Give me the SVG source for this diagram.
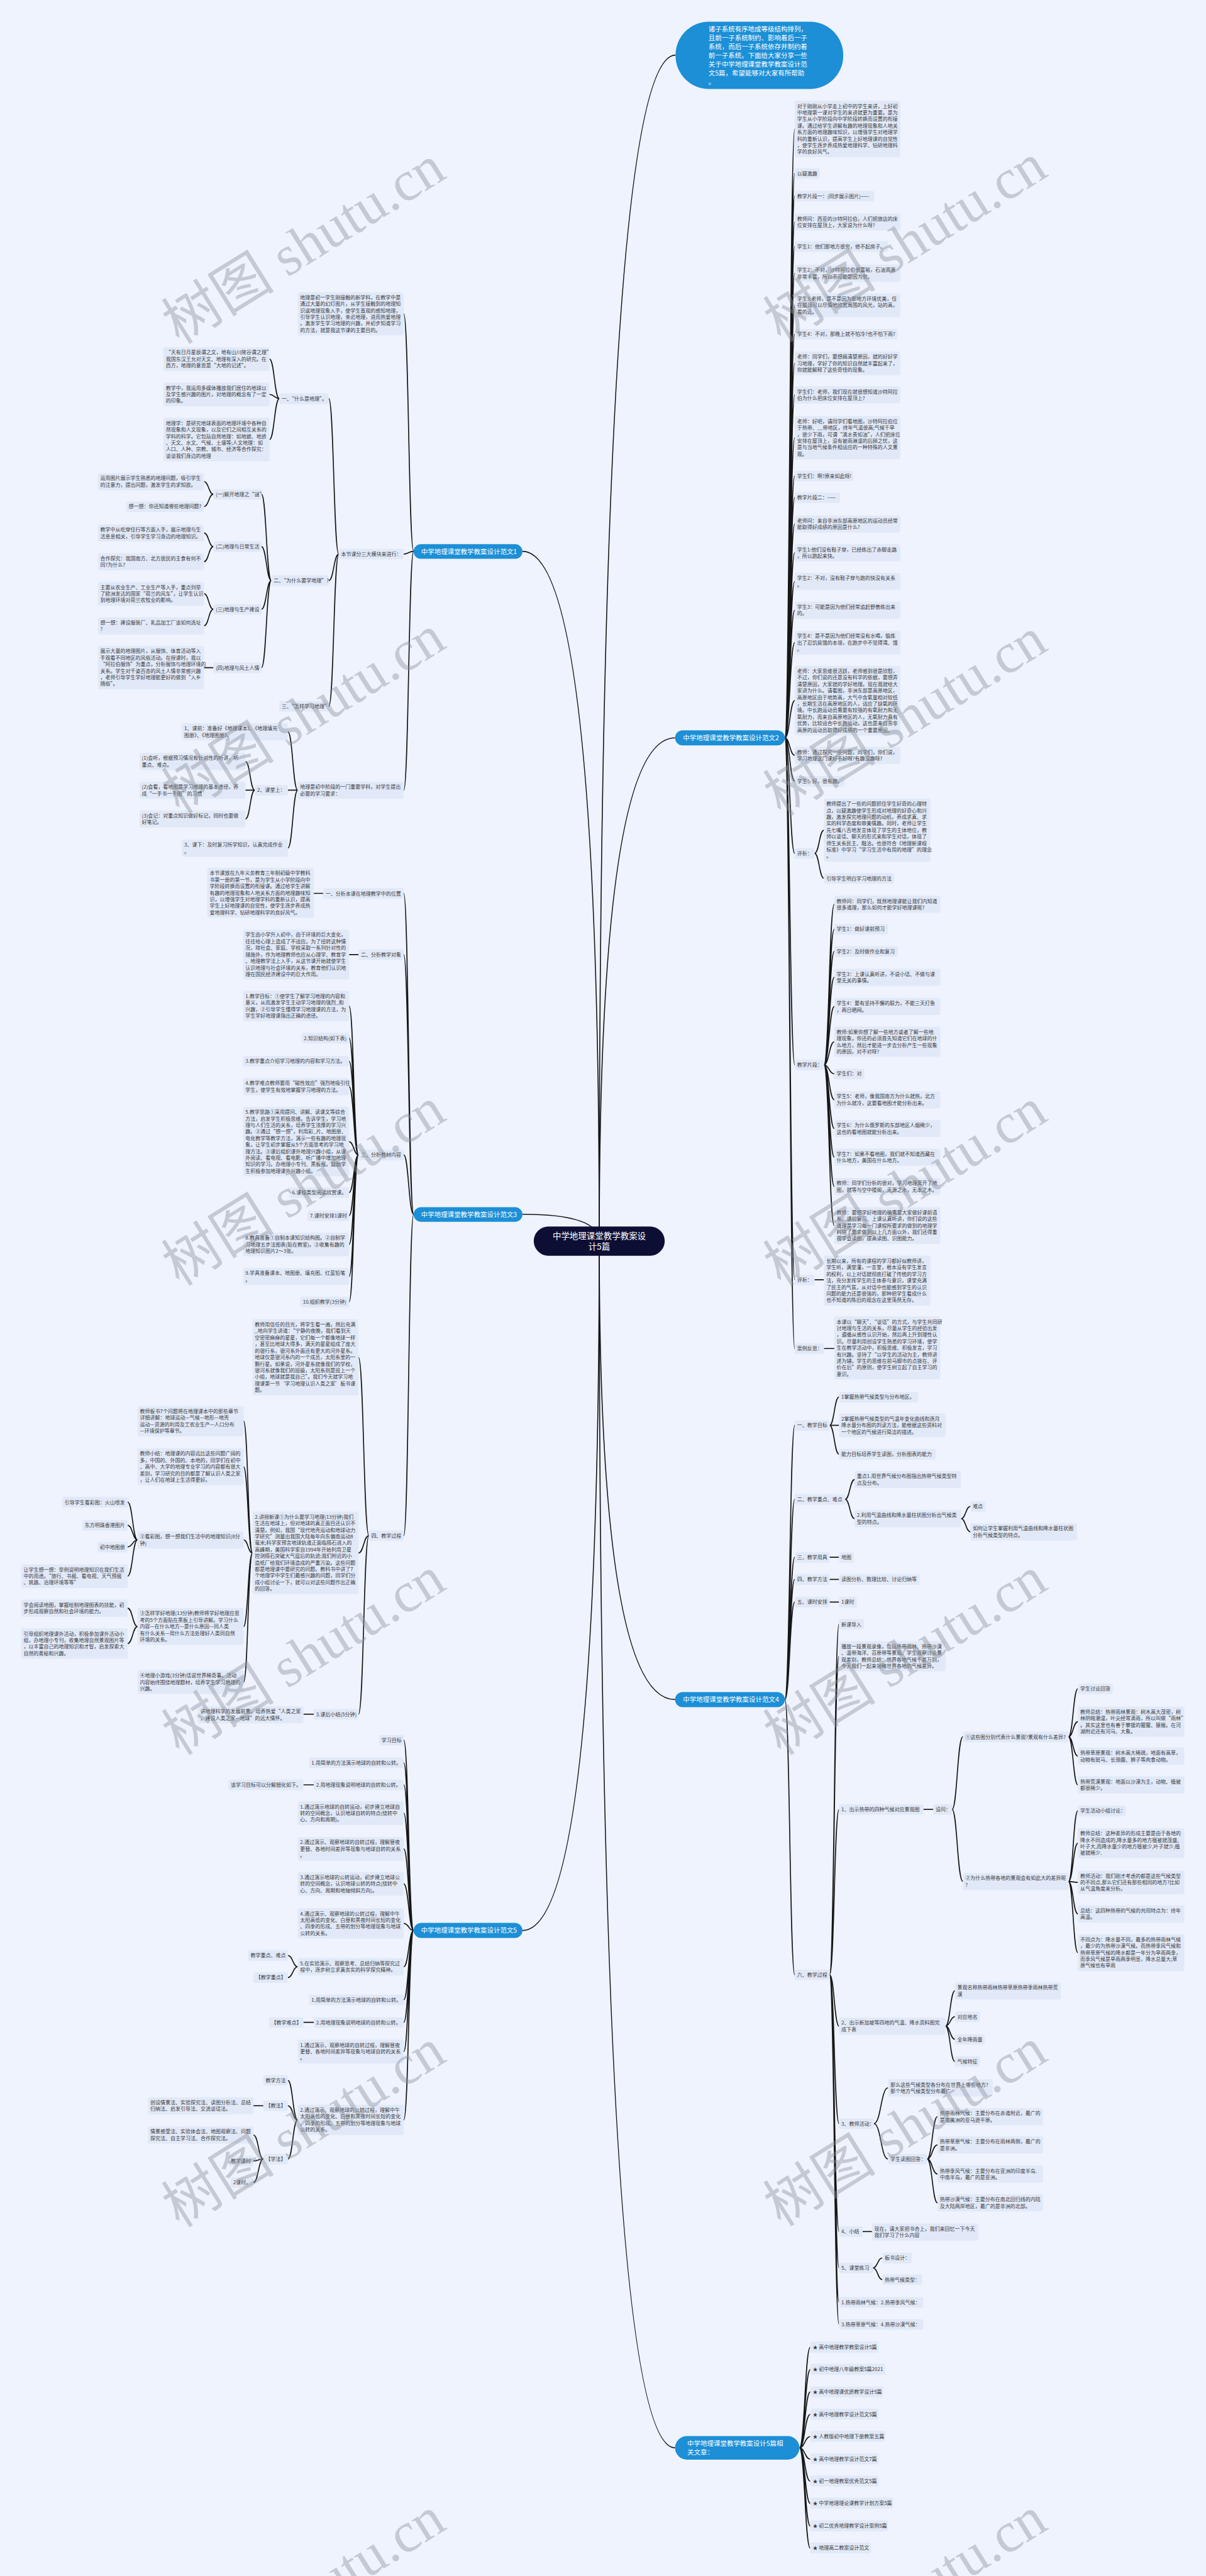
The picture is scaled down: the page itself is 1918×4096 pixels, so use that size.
<svg xmlns="http://www.w3.org/2000/svg" width="1918" height="4096" viewBox="0 0 1918 4096">
<style>
.n rect{fill:#e1e9f8}
.n text{font-family:"Noto Sans CJK SC","Liberation Sans",sans-serif;font-size:10.7px;fill:#383838}
.f rect{fill:#1c8fd6}
.f text{font-family:"Noto Sans CJK SC","Liberation Sans",sans-serif;font-size:14px;fill:#ffffff}
.c path{fill:none;stroke:#161616;stroke-width:2.2}
.w text{font-family:"Liberation Serif","Noto Sans CJK SC",serif;font-size:120px;fill:#8a8e98;fill-opacity:0.42}
</style>
<rect x="0" y="0" width="1918" height="4096" fill="#eef3fd"/>
<g transform="scale(0.74922)">
<g id="connectors" class="c">
<path d="M1272 2634Q1272 117 1434 117"/>
<path d="M1272 2634Q1272 1566 1433 1566"/>
<path d="M1272 2634Q1272 3607 1433 3607"/>
<path d="M1272 2634Q1272 5195 1433 5195"/>
<path d="M1272 2634Q1272 1170 1109 1170"/>
<path d="M1272 2634Q1272 2577 1109 2577"/>
<path d="M1272 2634Q1272 4097 1109 4097"/>
<path d="M1666 1566C1676.5 1566 1676.5 274 1687 274M1666 1566C1676.5 1566 1676.5 368 1687 368M1666 1566C1676.5 1566 1676.5 416 1687 416M1666 1566C1676.5 1566 1676.5 471 1687 471M1666 1566C1676.5 1566 1676.5 523 1687 523M1666 1566C1676.5 1566 1676.5 580 1687 580M1666 1566C1676.5 1566 1676.5 648 1687 648M1666 1566C1676.5 1566 1676.5 709 1687 709M1666 1566C1676.5 1566 1676.5 771 1687 771M1666 1566C1676.5 1566 1676.5 838 1687 838M1666 1566C1676.5 1566 1676.5 929 1687 929M1666 1566C1676.5 1566 1676.5 1010 1687 1010M1666 1566C1676.5 1566 1676.5 1056 1687 1056M1666 1566C1676.5 1566 1676.5 1112 1687 1112M1666 1566C1676.5 1566 1676.5 1173 1687 1173M1666 1566C1676.5 1566 1676.5 1234 1687 1234M1666 1566C1676.5 1566 1676.5 1295 1687 1295M1666 1566C1676.5 1566 1676.5 1364 1687 1364M1666 1566C1676.5 1566 1676.5 1487 1687 1487M1666 1566C1676.5 1566 1676.5 1603 1687 1603M1666 1566C1676.5 1566 1676.5 1658 1687 1658M1666 1566C1676.5 1566 1676.5 1811 1687 1811M1666 1566C1676.5 1566 1676.5 2260 1687 2260M1666 1566C1676.5 1566 1676.5 2716 1687 2716M1666 1566C1676.5 1566 1676.5 2862 1687 2862"/>
<path d="M1729 1811C1739 1811 1739 1762 1749 1762M1729 1811C1739 1811 1739 1864 1749 1864"/>
<path d="M1749 2260C1760 2260 1760 1919 1771 1919M1749 2260C1760 2260 1760 1972 1771 1972M1749 2260C1760 2260 1760 2019 1771 2019M1749 2260C1760 2260 1760 2074 1771 2074M1749 2260C1760 2260 1760 2136 1771 2136M1749 2260C1760 2260 1760 2211 1771 2211M1749 2260C1760 2260 1760 2279 1771 2279M1749 2260C1760 2260 1760 2334 1771 2334M1749 2260C1760 2260 1760 2395 1771 2395M1749 2260C1760 2260 1760 2456 1771 2456M1749 2260C1760 2260 1760 2518 1771 2518M1749 2260C1760 2260 1760 2601 1771 2601"/>
<path d="M1729 2716L1749 2716M1749 2862L1771 2862"/>
<path d="M1666 3607C1676.5 3607 1676.5 3025 1687 3025M1666 3607C1676.5 3607 1676.5 3182 1687 3182M1666 3607C1676.5 3607 1676.5 3305 1687 3305M1666 3607C1676.5 3607 1676.5 3352 1687 3352M1666 3607C1676.5 3607 1676.5 3400 1687 3400M1666 3607C1676.5 3607 1676.5 4191 1687 4191"/>
<path d="M1761 3025C1771 3025 1771 2965 1781 2965M1761 3025L1781 3025M1761 3025C1771 3025 1771 3086 1781 3086"/>
<path d="M1794 3182C1804 3182 1804 3140 1814 3140M1794 3182C1804 3182 1804 3223 1814 3223"/>
<path d="M2040 3223C2050 3223 2050 3197 2060 3197M2040 3223C2050 3223 2050 3251 2060 3251"/>
<path d="M1761 3305L1781 3305M1761 3352L1781 3352M1761 3400L1781 3400"/>
<path d="M1761 4191C1771 4191 1771 3447 1781 3447M1761 4191C1771 4191 1771 3515 1781 3515M1761 4191C1771 4191 1771 3840 1781 3840M1761 4191C1771 4191 1771 4300 1781 4300M1761 4191C1771 4191 1771 4507 1781 4507M1761 4191C1771 4191 1771 4736 1781 4736M1761 4191C1771 4191 1771 4813 1781 4813M1761 4191C1771 4191 1771 4886 1781 4886M1761 4191C1771 4191 1771 4933 1781 4933"/>
<path d="M1960 3840L1981 3840"/>
<path d="M2021 3840C2032 3840 2032 3686 2044 3686M2021 3840C2032 3840 2032 3993 2044 3993"/>
<path d="M2268 3686C2278 3686 2278 3584 2288 3584M2268 3686C2278 3686 2278 3654 2288 3654M2268 3686C2278 3686 2278 3727 2288 3727M2268 3686C2278 3686 2278 3788 2288 3788"/>
<path d="M2268 3993C2278 3993 2278 3843 2288 3843M2268 3993C2278 3993 2278 3912 2288 3912M2268 3993C2278 3993 2278 3995 2288 3995M2268 3993C2278 3993 2278 4062 2288 4062M2268 3993C2278 3993 2278 4144 2288 4144"/>
<path d="M2007 4300C2017 4300 2017 4225 2027 4225M2007 4300C2017 4300 2017 4280 2027 4280M2007 4300C2017 4300 2017 4328 2027 4328M2007 4300C2017 4300 2017 4375 2027 4375"/>
<path d="M1855 4507C1870 4507 1870 4431 1885 4431M1855 4507C1870 4507 1870 4582 1885 4582"/>
<path d="M1968 4582C1979 4582 1979 4492 1990 4492M1968 4582C1979 4582 1979 4552 1990 4552M1968 4582C1979 4582 1979 4614 1990 4614M1968 4582C1979 4582 1979 4675 1990 4675"/>
<path d="M1831 4736L1851 4736"/>
<path d="M1853 4813C1863 4813 1863 4792 1873 4792M1853 4813C1863 4813 1863 4838 1873 4838"/>
<path d="M1697 5195C1708.5 5195 1708.5 4981.5 1720 4981.5M1697 5195C1708.5 5195 1708.5 5029 1720 5029M1697 5195C1708.5 5195 1708.5 5076.5 1720 5076.5M1697 5195C1708.5 5195 1708.5 5124 1720 5124M1697 5195C1708.5 5195 1708.5 5171 1720 5171M1697 5195C1708.5 5195 1708.5 5219 1720 5219M1697 5195C1708.5 5195 1708.5 5266 1720 5266M1697 5195C1708.5 5195 1708.5 5313 1720 5313M1697 5195C1708.5 5195 1708.5 5361 1720 5361M1697 5195C1708.5 5195 1708.5 5408 1720 5408"/>
<path d="M878 1170C867.5 1170 867.5 666 857 666M878 1170C867.5 1170 867.5 1176 857 1176M878 1170C867.5 1170 867.5 1677 857 1677"/>
<path d="M719 1176C708.5 1176 708.5 846 698 846M719 1176C708.5 1176 708.5 1232 698 1232M719 1176C708.5 1176 708.5 1499 698 1499"/>
<path d="M593 846C582.5 846 582.5 762 572 762M593 846C582.5 846 582.5 837 572 837M593 846C582.5 846 582.5 933 572 933"/>
<path d="M576 1232C565.5 1232 565.5 1049 555 1049M576 1232C565.5 1232 565.5 1160 555 1160M576 1232C565.5 1232 565.5 1293 555 1293M576 1232C565.5 1232 565.5 1417 555 1417"/>
<path d="M453 1049C443 1049 443 1022 433 1022M453 1049C443 1049 443 1075 433 1075M453 1160C443 1160 443 1131 433 1131M453 1160C443 1160 443 1192 433 1192M453 1293C443 1293 443 1260 433 1260M453 1293C443 1293 443 1328 433 1328M453 1417L433 1417"/>
<path d="M632 1677C621.5 1677 621.5 1553 611 1553M632 1677L611 1677M632 1677C621.5 1677 621.5 1800 611 1800"/>
<path d="M541 1677C531 1677 531 1616 521 1616M541 1677L521 1677M541 1677C531 1677 531 1738 521 1738"/>
<path d="M878 2577C867.5 2577 867.5 1896 857 1896M878 2577C867.5 2577 867.5 2026 857 2026M878 2577C867.5 2577 867.5 2451 857 2451M878 2577C867.5 2577 867.5 3259 857 3259"/>
<path d="M686 1896L666 1896M761 2026L741 2026"/>
<path d="M761 2451C751 2451 751 2135 741 2135M761 2451C751 2451 751 2203 741 2203M761 2451C751 2451 751 2252 741 2252M761 2451C751 2451 751 2306 741 2306M761 2451C751 2451 751 2423 741 2423M761 2451C751 2451 751 2531 741 2531M761 2451C751 2451 751 2580 741 2580M761 2451C751 2451 751 2641 741 2641M761 2451C751 2451 751 2709 741 2709M761 2451C751 2451 751 2763 741 2763"/>
<path d="M783 3259C772 3259 772 2881 761 2881M783 3259C772 3259 772 3296 761 3296M783 3259C772 3259 772 3638 761 3638"/>
<path d="M536 3296C526.5 3296 526.5 3016 517 3016M536 3296C526.5 3296 526.5 3113 517 3113M536 3296C526.5 3296 526.5 3268 517 3268M536 3296C526.5 3296 526.5 3452 517 3452M536 3296C526.5 3296 526.5 3570 517 3570"/>
<path d="M292 3268C281.5 3268 281.5 3188 271 3188M292 3268C281.5 3268 281.5 3237 271 3237M292 3268C281.5 3268 281.5 3283 271 3283M292 3268C281.5 3268 281.5 3345 271 3345"/>
<path d="M292 3452C281.5 3452 281.5 3413 271 3413M292 3452C281.5 3452 281.5 3488 271 3488"/>
<path d="M666 3638L644 3638"/>
<path d="M878 4097C867.5 4097 867.5 3693 857 3693M878 4097C867.5 4097 867.5 3741 857 3741M878 4097C867.5 4097 867.5 3788 857 3788M878 4097C867.5 4097 867.5 3848 857 3848M878 4097C867.5 4097 867.5 3924 857 3924M878 4097C867.5 4097 867.5 3998 857 3998M878 4097C867.5 4097 867.5 4082 857 4082M878 4097C867.5 4097 867.5 4174 857 4174M878 4097C867.5 4097 867.5 4244 857 4244M878 4097C867.5 4097 867.5 4292 857 4292M878 4097C867.5 4097 867.5 4354 857 4354M878 4097C867.5 4097 867.5 4499 857 4499"/>
<path d="M666 3788L644 3788M666 4292L644 4292"/>
<path d="M632 4174C621.5 4174 621.5 4150 611 4150M632 4174C621.5 4174 621.5 4197 611 4197"/>
<path d="M632 4499C621.5 4499 621.5 4415 611 4415M632 4499C621.5 4499 621.5 4469 611 4469M632 4499C621.5 4499 621.5 4582 611 4582"/>
<path d="M559 4469L538 4469"/>
<path d="M559 4582C548.5 4582 548.5 4531 538 4531M559 4582C548.5 4582 548.5 4586 538 4586M559 4582C548.5 4582 548.5 4632 538 4632"/>
</g>

<g id="center"><rect x="1133" y="2603" width="278" height="62" rx="31" fill="#0d0e34"/><text x="1272" y="2629" text-anchor="middle" font-family="Noto Sans CJK SC,sans-serif" font-size="18" fill="#fff"><tspan x="1272">中学地理课堂教学教案设</tspan><tspan x="1272" dy="23">计5篇</tspan></text></g>

<g id="intro" class="f"><rect x="1434" y="46" width="356" height="143" rx="71"/><text x="1504" y="67"><tspan x="1504">诸子系统有序地成等级结构排列，</tspan><tspan x="1504" dy="18.7">且前一子系统制约、影响着后一子</tspan><tspan x="1504" dy="18.7">系统，而后一子系统依存并制约着</tspan><tspan x="1504" dy="18.7">前一子系统。下面给大家分享一些</tspan><tspan x="1504" dy="18.7">关于中学地理课堂教学教案设计范</tspan><tspan x="1504" dy="18.7">文5篇，希望能够对大家有所帮助</tspan><tspan x="1504" dy="18.7">。</tspan></text></g>

<g id="fan1" class="f"><rect x="878" y="1155" width="231" height="31" rx="15.5"/><text x="894" y="1175.5">中学地理课堂教学教案设计范文1</text></g>
<g id="fan3" class="f"><rect x="878" y="2562" width="231" height="31" rx="15.5"/><text x="894" y="2582.5">中学地理课堂教学教案设计范文3</text></g>
<g id="fan5" class="f"><rect x="878" y="4081" width="231" height="32" rx="16"/><text x="894" y="4102">中学地理课堂教学教案设计范文5</text></g>
<g id="fan2" class="f"><rect x="1433" y="1550" width="233" height="32" rx="16"/><text x="1450" y="1571">中学地理课堂教学教案设计范文2</text></g>
<g id="fan4" class="f"><rect x="1433" y="3591" width="233" height="32" rx="16"/><text x="1450" y="3612">中学地理课堂教学教案设计范文4</text></g>
<g id="related" class="f"><rect x="1433" y="5170" width="264" height="50" rx="25"/><text x="1459" y="5191"><tspan x="1459">中学地理课堂教学教案设计5篇相</tspan><tspan x="1459" dy="19">关文章：</tspan></text></g>

<!-- fan2 children -->
<g id="r01" class="n"><rect x="1687" y="214" width="224" height="119.7" rx="4"/><text x="1692" y="229"><tspan x="1692">对于刚刚从小学走上初中的学生来讲，上好初</tspan><tspan x="1692" dy="13.9">中地理第一课对学生的来讲就更为重要。是为</tspan><tspan x="1692" dy="13.9">学生从小学阶段向中学阶段转换而设置的衔接</tspan><tspan x="1692" dy="13.9">课。通过给学生讲解有趣的地理现象和人地关</tspan><tspan x="1692" dy="13.9">系方面的地理趣味知识，以增强学生对地理学</tspan><tspan x="1692" dy="13.9">科的重新认识，提高学生上好地理课的自觉性</tspan><tspan x="1692" dy="13.9">，使学生逐步养成热爱地理科学、钻研地理科</tspan><tspan x="1692" dy="13.9">学的良好风气。</tspan></text></g>
<g id="r02" class="n"><rect x="1687" y="357" width="53" height="22.4" rx="4"/><text x="1692" y="372">以疑激趣</text></g>
<g id="r03" class="n"><rect x="1687" y="405" width="169" height="22.4" rx="4"/><text x="1692" y="420">教学片段一：(同步展示图片)——</text></g>
<g id="r04" class="n"><rect x="1687" y="453" width="224" height="36.3" rx="4"/><text x="1692" y="468"><tspan x="1692">教师问：西亚的沙特阿拉伯，人们把旅店的床</tspan><tspan x="1692" dy="13.9">位安排在屋顶上，大家说为什么呀?</tspan></text></g>
<g id="r05" class="n"><rect x="1687" y="512" width="198" height="22.4" rx="4"/><text x="1692" y="527">学生1：他们那地方很穷，修不起房子。</text></g>
<g id="r06" class="n"><rect x="1687" y="562" width="224" height="36.3" rx="4"/><text x="1692" y="577"><tspan x="1692">学生2：不对，沙特阿拉伯很富裕，石油资源</tspan><tspan x="1692" dy="13.9">非常丰富，所以不可能是因为穷。</tspan></text></g>
<g id="r07" class="n"><rect x="1687" y="623" width="224" height="50.2" rx="4"/><text x="1692" y="638"><tspan x="1692">学生3:老师，是不是因为那地方环境优美，住</tspan><tspan x="1692" dy="13.9">在屋顶可以尽情地欣赏周围的风光，站的高，</tspan><tspan x="1692" dy="13.9">看的远。</tspan></text></g>
<g id="r08" class="n"><rect x="1687" y="698" width="218" height="22.4" rx="4"/><text x="1692" y="713">学生4：不对，那晚上就不怕冷?也不怕下雨?</text></g>
<g id="r09" class="n"><rect x="1687" y="746" width="224" height="50.2" rx="4"/><text x="1692" y="761"><tspan x="1692">老师：同学们，要想搞清楚原因，就的好好学</tspan><tspan x="1692" dy="13.9">习地理，学好了你的知识自然就丰富起来了，</tspan><tspan x="1692" dy="13.9">你就能解释了这些奇怪的现象。</tspan></text></g>
<g id="r10" class="n"><rect x="1687" y="820" width="224" height="36.3" rx="4"/><text x="1692" y="835"><tspan x="1692">学生们：老师，我们现在就很想知道沙特阿拉</tspan><tspan x="1692" dy="13.9">伯为什么把床位安排在屋顶上?</tspan></text></g>
<g id="r11" class="n"><rect x="1687" y="883" width="224" height="91.9" rx="4"/><text x="1692" y="898"><tspan x="1692">老师：好吧，请同学们看地图，沙特阿拉伯位</tspan><tspan x="1692" dy="13.9">于热带、__带地区，终年气温很高;气候干旱</tspan><tspan x="1692" dy="13.9">，很少下雨，可谓“滴水贵如油”，人们把床位</tspan><tspan x="1692" dy="13.9">安排在屋顶上，没有被雨淋湿的后顾之忧，这</tspan><tspan x="1692" dy="13.9">是与当地气候条件相适应的一种特殊的人文景</tspan><tspan x="1692" dy="13.9">观。</tspan></text></g>
<g id="r12" class="n"><rect x="1687" y="999" width="124" height="22.4" rx="4"/><text x="1692" y="1014">学生们：啊?原来如此呀!</text></g>
<g id="r13" class="n"><rect x="1687" y="1045" width="96" height="22.4" rx="4"/><text x="1692" y="1060">教学片段二：——</text></g>
<g id="r14" class="n"><rect x="1687" y="1094" width="224" height="36.3" rx="4"/><text x="1692" y="1109"><tspan x="1692">老师问：来自非洲东部高原地区的运动员经常</tspan><tspan x="1692" dy="13.9">能取得好成绩的原因是什么?</tspan></text></g>
<g id="r15" class="n"><rect x="1687" y="1155" width="224" height="36.3" rx="4"/><text x="1692" y="1170"><tspan x="1692">学生1:他们没有鞋子穿，已经练出了赤脚走路</tspan><tspan x="1692" dy="13.9">，所以跑起来快。</tspan></text></g>
<g id="r16" class="n"><rect x="1687" y="1216" width="224" height="36.3" rx="4"/><text x="1692" y="1231"><tspan x="1692">学生2：不对，没有鞋子穿与跑的快没有关系</tspan><tspan x="1692" dy="13.9">。</tspan></text></g>
<g id="r17" class="n"><rect x="1687" y="1277" width="224" height="36.3" rx="4"/><text x="1692" y="1292"><tspan x="1692">学生3：可能是因为他们经常追赶野兽练出来</tspan><tspan x="1692" dy="13.9">的。</tspan></text></g>
<g id="r18" class="n"><rect x="1687" y="1339" width="224" height="50.2" rx="4"/><text x="1692" y="1354"><tspan x="1692">学生4：是不是因为他们经常没有水喝，锻炼</tspan><tspan x="1692" dy="13.9">出了忍饥挨饿的本领，在跑步中不觉得渴、饿</tspan><tspan x="1692" dy="13.9">。</tspan></text></g>
<g id="r19" class="n"><rect x="1687" y="1413" width="224" height="147.5" rx="4"/><text x="1692" y="1428"><tspan x="1692">老师：大家思维很活跃，老师感到很是欣慰，</tspan><tspan x="1692" dy="13.9">不过，你们说的还是没有科学的依据，要想弄</tspan><tspan x="1692" dy="13.9">清楚原因，大家就的学好地理。现在我就给大</tspan><tspan x="1692" dy="13.9">家讲为什么。请看图，非洲东部是高原地区，</tspan><tspan x="1692" dy="13.9">高原地区由于地势高，大气中含氧量相对较低</tspan><tspan x="1692" dy="13.9">，长期生活在高原地区的人，适应了缺氧的环</tspan><tspan x="1692" dy="13.9">境。中长跑运动员需要有较强的有氧耐力和无</tspan><tspan x="1692" dy="13.9">氧耐力，而来自高原地区的人，无氧耐力具有</tspan><tspan x="1692" dy="13.9">优势，比较适合中长跑运动，这也是来自东非</tspan><tspan x="1692" dy="13.9">高原的运动员取得好成绩的一个重要原因。</tspan></text></g>
<g id="r20" class="n"><rect x="1687" y="1585" width="224" height="36.3" rx="4"/><text x="1692" y="1600"><tspan x="1692">教师：通过探究一些问题，同学们，你们说，</tspan><tspan x="1692" dy="13.9">学习地理这门课好不好呀?有趣没趣呀?</tspan></text></g>
<g id="r21" class="n"><rect x="1687" y="1647" width="106" height="22.4" rx="4"/><text x="1692" y="1662">学生：好，很有趣。</text></g>
<g id="r22" class="n"><rect x="1687" y="1800" width="42" height="22.4" rx="4"/><text x="1692" y="1815">评析：</text></g>
<g id="r22a" class="n"><rect x="1749" y="1695" width="226" height="133.6" rx="4"/><text x="1754" y="1710"><tspan x="1754">教师提出了一些的问题抓住学生好奇的心理特</tspan><tspan x="1754" dy="13.9">点，以疑激趣使学生形成对地理的好奇心和兴</tspan><tspan x="1754" dy="13.9">趣，激发探究地理问题的动机，养成求真、求</tspan><tspan x="1754" dy="13.9">实的科学态度和审美情趣。同时，老师让学生</tspan><tspan x="1754" dy="13.9">先七嘴八舌地发言体现了学生的主体地位，教</tspan><tspan x="1754" dy="13.9">师以谈话、聊天的形式来和学生对话，体现了</tspan><tspan x="1754" dy="13.9">师生关系民主、融洽。也很符合《地理新课程</tspan><tspan x="1754" dy="13.9">标准》中学习“学习生活中有用的地理”的理念</tspan><tspan x="1754" dy="13.9">。</tspan></text></g>
<g id="r22b" class="n"><rect x="1749" y="1853" width="149" height="22.4" rx="4"/><text x="1754" y="1868">引导学生明白学习地理的方法</text></g>
<g id="r23" class="n"><rect x="1687" y="2249" width="62" height="22.4" rx="4"/><text x="1692" y="2264">教学片段：</text></g>
<g id="r23a" class="n"><rect x="1771" y="1901" width="225" height="36.3" rx="4"/><text x="1776" y="1916"><tspan x="1776">教师问：同学们，既然地理课能让我们内知道</tspan><tspan x="1776" dy="13.9">很多道理，那么如何才能学好地理课呢?</tspan></text></g>
<g id="r23b" class="n"><rect x="1771" y="1961" width="114" height="22.4" rx="4"/><text x="1776" y="1976">学生1：做好课前预习</text></g>
<g id="r23c" class="n"><rect x="1771" y="2008" width="135" height="22.4" rx="4"/><text x="1776" y="2023">学生2：及时做作业和复习</text></g>
<g id="r23d" class="n"><rect x="1771" y="2056" width="225" height="36.3" rx="4"/><text x="1776" y="2071"><tspan x="1776">学生3：上课认真听讲，不说小话、不做与课</tspan><tspan x="1776" dy="13.9">堂无关的事情。</tspan></text></g>
<g id="r23e" class="n"><rect x="1771" y="2118" width="225" height="36.3" rx="4"/><text x="1776" y="2133"><tspan x="1776">学生4：要有坚持不懈的毅力，不能三天打鱼</tspan><tspan x="1776" dy="13.9">，两日晒网。</tspan></text></g>
<g id="r23f" class="n"><rect x="1771" y="2179" width="225" height="64.1" rx="4"/><text x="1776" y="2194"><tspan x="1776">教师:如果你想了解一些地方或者了解一些地</tspan><tspan x="1776" dy="13.9">理现象，你还的必须首先知道它们在地球的什</tspan><tspan x="1776" dy="13.9">么地方，然后才能进一步去分析产生一些现象</tspan><tspan x="1776" dy="13.9">的原因，对不对呀?</tspan></text></g>
<g id="r23g" class="n"><rect x="1771" y="2268" width="64" height="22.4" rx="4"/><text x="1776" y="2283">学生们：对</text></g>
<g id="r23h" class="n"><rect x="1771" y="2316" width="225" height="36.3" rx="4"/><text x="1776" y="2331"><tspan x="1776">学生5：老师，像我国南方为什么就热，北方</tspan><tspan x="1776" dy="13.9">为什么就冷，这要看地图才能分析出来。</tspan></text></g>
<g id="r23i" class="n"><rect x="1771" y="2377" width="225" height="36.3" rx="4"/><text x="1776" y="2392"><tspan x="1776">学生6：为什么俄罗斯的东部地区人烟稀少，</tspan><tspan x="1776" dy="13.9">这也的看地图就能分析出来。</tspan></text></g>
<g id="r23j" class="n"><rect x="1771" y="2438" width="225" height="36.3" rx="4"/><text x="1776" y="2453"><tspan x="1776">学生7：如果不看地图，我们就不知道西藏在</tspan><tspan x="1776" dy="13.9">什么地方，美国在什么地方。</tspan></text></g>
<g id="r23k" class="n"><rect x="1771" y="2500" width="225" height="36.3" rx="4"/><text x="1776" y="2515"><tspan x="1776">教师：同学们分析的很对，学习地理离开了地</tspan><tspan x="1776" dy="13.9">图，就等与空中楼阁，无源之水，无本之木。</tspan></text></g>
<g id="r23l" class="n"><rect x="1771" y="2562" width="225" height="78" rx="4"/><text x="1776" y="2577"><tspan x="1776">教师：要想学好地理的确需要大家做好课前语</tspan><tspan x="1776" dy="13.9">系、课后复习、上课认真听讲，你们说的这些</tspan><tspan x="1776" dy="13.9">道理是学习每一门课程所要求的做到的地理学</tspan><tspan x="1776" dy="13.9">科除了要求做到以上几方面以外，我们还得重</tspan><tspan x="1776" dy="13.9">视学会读图，提高读图、识图能力。</tspan></text></g>
<g id="r24" class="n"><rect x="1687" y="2705" width="42" height="22.4" rx="4"/><text x="1692" y="2720">评析：</text></g>
<g id="r24a" class="n"><rect x="1749" y="2665" width="226" height="105.8" rx="4"/><text x="1754" y="2680"><tspan x="1754">长期以来，所有的课程的学习都好似教师讲，</tspan><tspan x="1754" dy="13.9">学生听，满堂灌，一言堂，根本没有学生发言</tspan><tspan x="1754" dy="13.9">的权利，以上对话就彻底打破了传统的学习方</tspan><tspan x="1754" dy="13.9">法，充分发挥学生的主体参与意识，课堂充满</tspan><tspan x="1754" dy="13.9">了民主的气氛，从对话中也能感到学生的认识</tspan><tspan x="1754" dy="13.9">问题的能力还是很强的，那种把学生看成什么</tspan><tspan x="1754" dy="13.9">也不知道的陈旧的观念在这里荡然无存。</tspan></text></g>
<g id="r25" class="n"><rect x="1687" y="2851" width="62" height="22.4" rx="4"/><text x="1692" y="2866">案例反思：</text></g>
<g id="r25a" class="n"><rect x="1771" y="2794" width="225" height="133.6" rx="4"/><text x="1776" y="2809"><tspan x="1776">本课以“聊天”、“谈话”的方式，与学生共同研</tspan><tspan x="1776" dy="13.9">讨地理与生活的关系，尽量从学生的经验出发</tspan><tspan x="1776" dy="13.9">，遵循从感性认识开始，然后再上升到理性认</tspan><tspan x="1776" dy="13.9">识。尽量利用创设学生熟悉的学习环境，使学</tspan><tspan x="1776" dy="13.9">生在教学活动中，积极思维、积极发言，学习</tspan><tspan x="1776" dy="13.9">有兴趣。坚持了“以学生的活动为主，教师讲</tspan><tspan x="1776" dy="13.9">述为辅，学生的思维在前马脚市的点拨在、评</tspan><tspan x="1776" dy="13.9">价在后”的原则，使学生树立起了自主学习的</tspan><tspan x="1776" dy="13.9">意识。</tspan></text></g>

<!-- fan4 children -->
<g id="q1" class="n"><rect x="1687" y="3014" width="74" height="22.4" rx="4"/><text x="1692" y="3029">一、教学目标</text></g>
<g id="q1a" class="n"><rect x="1781" y="2954" width="168" height="22.4" rx="4"/><text x="1786" y="2969">1掌握热带气候类型与分布地区。</text></g>
<g id="q1b" class="n"><rect x="1781" y="3000" width="226" height="50.2" rx="4"/><text x="1786" y="3015"><tspan x="1786">2掌握热带气候类型的气温年变化曲线和逐月</tspan><tspan x="1786" dy="13.9">降水量分布图的判读方法，能根据这些资料对</tspan><tspan x="1786" dy="13.9">一个地区的气候进行简洁的描述。</tspan></text></g>
<g id="q1c" class="n"><rect x="1781" y="3075" width="205" height="22.4" rx="4"/><text x="1786" y="3090">能力目标培养学生读图，分析图表的能力</text></g>
<g id="q2" class="n"><rect x="1687" y="3171" width="107" height="22.4" rx="4"/><text x="1692" y="3186">二、教学重点、难点</text></g>
<g id="q2a" class="n"><rect x="1814" y="3122" width="226" height="36.3" rx="4"/><text x="1819" y="3137"><tspan x="1819">重点1.用世界气候分布图指出热带气候类型特</tspan><tspan x="1819" dy="13.9">点及分布。</tspan></text></g>
<g id="q2b" class="n"><rect x="1814" y="3205" width="226" height="36.3" rx="4"/><text x="1819" y="3220"><tspan x="1819">2.利用气温曲线和降水量柱状图分析出气候类</tspan><tspan x="1819" dy="13.9">型的特点。</tspan></text></g>
<g id="q2b1" class="n"><rect x="2060" y="3186" width="32" height="22.4" rx="4"/><text x="2065" y="3201">难点</text></g>
<g id="q2b2" class="n"><rect x="2060" y="3233" width="226" height="36.3" rx="4"/><text x="2065" y="3248"><tspan x="2065">如何让学生掌握利用气温曲线和降水量柱状图</tspan><tspan x="2065" dy="13.9">分析气候类型的特点。</tspan></text></g>
<g id="q3" class="n"><rect x="1687" y="3294" width="74" height="22.4" rx="4"/><text x="1692" y="3309">三、教学用具</text></g>
<g id="q3a" class="n"><rect x="1781" y="3294" width="32" height="22.4" rx="4"/><text x="1786" y="3309">地图</text></g>
<g id="q4" class="n"><rect x="1687" y="3341" width="74" height="22.4" rx="4"/><text x="1692" y="3356">四、教学方法</text></g>
<g id="q4a" class="n"><rect x="1781" y="3341" width="171" height="22.4" rx="4"/><text x="1786" y="3356">读图分析、数理比较、讨论归纳等</text></g>
<g id="q5" class="n"><rect x="1687" y="3389" width="74" height="22.4" rx="4"/><text x="1692" y="3404">五、课时安排</text></g>
<g id="q5a" class="n"><rect x="1781" y="3389" width="38" height="22.4" rx="4"/><text x="1786" y="3404">1课时</text></g>
<g id="q6" class="n"><rect x="1687" y="4180" width="74" height="22.4" rx="4"/><text x="1692" y="4195">六、教学过程</text></g>
<g id="q6a" class="n"><rect x="1781" y="3436" width="53" height="22.4" rx="4"/><text x="1786" y="3451">新课导入</text></g>
<g id="q6b" class="n"><rect x="1781" y="3483" width="226" height="64.1" rx="4"/><text x="1786" y="3498"><tspan x="1786">播放一段景观录像，包括热带雨林、热带沙漠</tspan><tspan x="1786" dy="13.9">、温带海洋、苔原带等景观。学生观察讨论景</tspan><tspan x="1786" dy="13.9">观差别，教师总结：世界各地气候千差万别，</tspan><tspan x="1786" dy="13.9">今天我们一起来领略世界各地的气候差异。</tspan></text></g>
<g id="q6c" class="n"><rect x="1781" y="3829" width="179" height="22.4" rx="4"/><text x="1786" y="3844">1、出示热带的四种气候对应景观图</text></g>
<g id="q6c1" class="n"><rect x="1981" y="3829" width="40" height="22.4" rx="4"/><text x="1986" y="3844">设问：</text></g>
<g id="q6c1a" class="n"><rect x="2044" y="3675" width="224" height="22.4" rx="4"/><text x="2049" y="3690">①这些图分别代表什么景观?景观有什么差异?</text></g>
<g id="q6c1a1" class="n"><rect x="2288" y="3573" width="74" height="22.4" rx="4"/><text x="2293" y="3588">学生讨论回答</text></g>
<g id="q6c1a2" class="n"><rect x="2288" y="3622" width="226" height="64.1" rx="4"/><text x="2293" y="3637"><tspan x="2293">教师总结：热带雨林景观：树木高大茂密，树</tspan><tspan x="2293" dy="13.9">林阴暗潮湿，叶尖经常滴雨，所以叫做“雨林”</tspan><tspan x="2293" dy="13.9">。其实这里也有善于攀援的猩猩、猿猴。在河</tspan><tspan x="2293" dy="13.9">湖附近还有河马、大象。</tspan></text></g>
<g id="q6c1a3" class="n"><rect x="2288" y="3709" width="226" height="36.3" rx="4"/><text x="2293" y="3724"><tspan x="2293">热带草原景观：树木高大稀疏，地面有高草，</tspan><tspan x="2293" dy="13.9">动物有斑马、长颈鹿、狮子等肉食动物。</tspan></text></g>
<g id="q6c1a4" class="n"><rect x="2288" y="3770" width="226" height="36.3" rx="4"/><text x="2293" y="3785"><tspan x="2293">热带荒漠景观：地面以沙漠为主，动物、植被</tspan><tspan x="2293" dy="13.9">都很稀少。</tspan></text></g>
<g id="q6c1b" class="n"><rect x="2044" y="3975" width="224" height="36.3" rx="4"/><text x="2049" y="3990"><tspan x="2049">②为什么热带各地的景观会有如此大的差异呢</tspan><tspan x="2049" dy="13.9">?</tspan></text></g>
<g id="q6c1b1" class="n"><rect x="2288" y="3832" width="102" height="22.4" rx="4"/><text x="2293" y="3847">学生活动小组讨论：</text></g>
<g id="q6c1b2" class="n"><rect x="2288" y="3880" width="226" height="64.1" rx="4"/><text x="2293" y="3895"><tspan x="2293">教师总结：这种差异的形成主要是由于各地的</tspan><tspan x="2293" dy="13.9">降水不同造成的,降水量多的地方植被就茂盛,</tspan><tspan x="2293" dy="13.9">叶子大,而降水量少的地方植被少,叶子就少,植</tspan><tspan x="2293" dy="13.9">被就稀少.</tspan></text></g>
<g id="q6c1b3" class="n"><rect x="2288" y="3970" width="226" height="50.2" rx="4"/><text x="2293" y="3985"><tspan x="2293">教师活动：我们刚才考虑的都是这些气候类型</tspan><tspan x="2293" dy="13.9">的不同点,那么它们还有那些相同的地方?比如</tspan><tspan x="2293" dy="13.9">从气温角度来分析。</tspan></text></g>
<g id="q6c1b4" class="n"><rect x="2288" y="4044" width="226" height="36.3" rx="4"/><text x="2293" y="4059"><tspan x="2293">总结：这四种热带的气候的共同特点为：终年</tspan><tspan x="2293" dy="13.9">高温。</tspan></text></g>
<g id="q6c1b5" class="n"><rect x="2288" y="4105" width="226" height="78" rx="4"/><text x="2293" y="4120"><tspan x="2293">不同点为：降水量不同，最多的热带雨林气候</tspan><tspan x="2293" dy="13.9">，最少的为热带沙漠气候。而热带季风气候和</tspan><tspan x="2293" dy="13.9">热带草原气候的降水都是一年分为旱雨两季，</tspan><tspan x="2293" dy="13.9">而季风气候是旱雨两季明显，降水总量大;草</tspan><tspan x="2293" dy="13.9">原气候也有旱雨</tspan></text></g>
<g id="q6d" class="n"><rect x="1781" y="4282" width="226" height="36.3" rx="4"/><text x="1786" y="4297"><tspan x="1786">2、出示新加坡等四地的气温、降水资料图完</tspan><tspan x="1786" dy="13.9">成下表</tspan></text></g>
<g id="q6d1" class="n"><rect x="2027" y="4207" width="225" height="36.3" rx="4"/><text x="2032" y="4222"><tspan x="2032">景观名称热带雨林热带草原热带季雨林热带荒</tspan><tspan x="2032" dy="13.9">漠</tspan></text></g>
<g id="q6d2" class="n"><rect x="2027" y="4269" width="53" height="22.4" rx="4"/><text x="2032" y="4284">对应地名</text></g>
<g id="q6d3" class="n"><rect x="2027" y="4317" width="63" height="22.4" rx="4"/><text x="2032" y="4332">全年降雨量</text></g>
<g id="q6d4" class="n"><rect x="2027" y="4364" width="53" height="22.4" rx="4"/><text x="2032" y="4379">气候特征</text></g>
<g id="q6e" class="n"><rect x="1781" y="4496" width="74" height="22.4" rx="4"/><text x="1786" y="4511">3、教师活动：</text></g>
<g id="q6e1" class="n"><rect x="1885" y="4413" width="222" height="36.3" rx="4"/><text x="1890" y="4428"><tspan x="1890">那么这些气候类型各分布在世界上哪些地方?</tspan><tspan x="1890" dy="13.9">那个地方气候类型分布最广</tspan></text></g>
<g id="q6e2" class="n"><rect x="1885" y="4571" width="83" height="22.4" rx="4"/><text x="1890" y="4586">学生读图回答：</text></g>
<g id="q6e2a" class="n"><rect x="1990" y="4474" width="224" height="36.3" rx="4"/><text x="1995" y="4489"><tspan x="1995">热带雨林气候：主要分布在赤道附近，最广的</tspan><tspan x="1995" dy="13.9">是南美洲的亚马逊平原。</tspan></text></g>
<g id="q6e2b" class="n"><rect x="1990" y="4534" width="224" height="36.3" rx="4"/><text x="1995" y="4549"><tspan x="1995">热带草原气候：主要分布在雨林两侧，最广的</tspan><tspan x="1995" dy="13.9">是非洲。</tspan></text></g>
<g id="q6e2c" class="n"><rect x="1990" y="4596" width="224" height="36.3" rx="4"/><text x="1995" y="4611"><tspan x="1995">热带季风气候：主要分布在亚洲的印度半岛.</tspan><tspan x="1995" dy="13.9">中南半岛，最广的是亚洲。</tspan></text></g>
<g id="q6e2d" class="n"><rect x="1990" y="4657" width="224" height="36.3" rx="4"/><text x="1995" y="4672"><tspan x="1995">热带沙漠气候：主要分布在南北回归线的内陆</tspan><tspan x="1995" dy="13.9">及大陆两岸地区，最广的是非洲的北部。</tspan></text></g>
<g id="q6f" class="n"><rect x="1781" y="4725" width="50" height="22.4" rx="4"/><text x="1786" y="4740">4、小结</text></g>
<g id="q6f1" class="n"><rect x="1851" y="4719" width="226" height="36.3" rx="4"/><text x="1856" y="4734"><tspan x="1856">现在，请大家把书合上，我们来回忆一下今天</tspan><tspan x="1856" dy="13.9">我们学习了什么内容</tspan></text></g>
<g id="q6g" class="n"><rect x="1781" y="4802" width="72" height="22.4" rx="4"/><text x="1786" y="4817">5、课堂练习</text></g>
<g id="q6g1" class="n"><rect x="1873" y="4781" width="63" height="22.4" rx="4"/><text x="1878" y="4796">板书设计：</text></g>
<g id="q6g2" class="n"><rect x="1873" y="4827" width="84" height="22.4" rx="4"/><text x="1878" y="4842">热带气候类型：</text></g>
<g id="q6h" class="n"><rect x="1781" y="4875" width="179" height="22.4" rx="4"/><text x="1786" y="4890">1.热带雨林气候：2.热带季风气候：</text></g>
<g id="q6i" class="n"><rect x="1781" y="4922" width="179" height="22.4" rx="4"/><text x="1786" y="4937">3.热带草原气候：4.热带沙漠气候：</text></g>

<!-- related -->
<g id="a1" class="n"><rect x="1720" y="4970" width="145" height="23" rx="4"/><text x="1725" y="4985.5">★ 高中地理教学教案设计5篇</text></g>
<g id="a2" class="n"><rect x="1720" y="5017" width="159" height="23" rx="4"/><text x="1725" y="5032.5">★ 初中地理八年级教案5篇2021</text></g>
<g id="a3" class="n"><rect x="1720" y="5065" width="155" height="23" rx="4"/><text x="1725" y="5080.5">★ 高中地理课优质教学设计5篇</text></g>
<g id="a4" class="n"><rect x="1720" y="5112" width="145" height="23" rx="4"/><text x="1725" y="5127.5">★ 高中地理教学设计范文5篇</text></g>
<g id="a5" class="n"><rect x="1720" y="5159" width="159" height="23" rx="4"/><text x="1725" y="5174.5">★ 人教版初中地理下册教案五篇</text></g>
<g id="a6" class="n"><rect x="1720" y="5207" width="145" height="23" rx="4"/><text x="1725" y="5222.5">★ 高中地理教学设计范文7篇</text></g>
<g id="a7" class="n"><rect x="1720" y="5254" width="145" height="23" rx="4"/><text x="1725" y="5269.5">★ 初一地理教案优秀范文5篇</text></g>
<g id="a8" class="n"><rect x="1720" y="5301" width="176" height="23" rx="4"/><text x="1725" y="5316.5">★ 中学地理理论课教学计划方案5篇</text></g>
<g id="a9" class="n"><rect x="1720" y="5349" width="165" height="23" rx="4"/><text x="1725" y="5364.5">★ 初二优秀地理教学设计案例5篇</text></g>
<g id="a10" class="n"><rect x="1720" y="5396" width="129" height="23" rx="4"/><text x="1725" y="5411.5">★ 地理高二教案设计范文</text></g>

<!-- fan1 children -->
<g id="l1" class="n"><rect x="632" y="620" width="225" height="91.9" rx="4"/><text x="637" y="635"><tspan x="637">地理是初一学生刚接触的新学科，在教学中是</tspan><tspan x="637" dy="13.9">通过大量的幻灯图片，从学生接触到的地理知</tspan><tspan x="637" dy="13.9">识或地理现象入手，使学生直观的感知地理，</tspan><tspan x="637" dy="13.9">引导学生认识地理，亲近地理，进而热爱地理</tspan><tspan x="637" dy="13.9">。激发学生学习地理的兴趣，并初步知道学习</tspan><tspan x="637" dy="13.9">的方法，就是我这节课的主要目的。</tspan></text></g>
<g id="l2" class="n"><rect x="719" y="1165" width="138" height="22.4" rx="4"/><text x="724" y="1180">本节课分三大模块来进行：</text></g>
<g id="l2a" class="n"><rect x="593" y="835" width="105" height="22.4" rx="4"/><text x="598" y="850">一、“什么是地理”。</text></g>
<g id="l2a1" class="n"><rect x="347" y="737" width="225" height="50.2" rx="4"/><text x="352" y="752"><tspan x="352">“天有日月星辰谓之文，地有山川陵谷谓之理”</tspan><tspan x="352" dy="13.9">我国东汉王允对天文、地理有深入的研究。在</tspan><tspan x="352" dy="13.9">西方，地理的意思是“大地的记述”。</tspan></text></g>
<g id="l2a2" class="n"><rect x="347" y="812" width="225" height="50.2" rx="4"/><text x="352" y="827"><tspan x="352">教学中，我运用多媒体播放我们居住的地球以</tspan><tspan x="352" dy="13.9">及学生感兴趣的图片，对地理的概念有了一定</tspan><tspan x="352" dy="13.9">的印象。</tspan></text></g>
<g id="l2a3" class="n"><rect x="347" y="887" width="225" height="91.9" rx="4"/><text x="352" y="902"><tspan x="352">地理学：是研究地球表面的地理环境中各种自</tspan><tspan x="352" dy="13.9">然现象和人文现象，以及它们之间相互关系的</tspan><tspan x="352" dy="13.9">学科的科学。它包括自然地理：如地貌、地质</tspan><tspan x="352" dy="13.9">、天文、水文、气候、土壤等;人文地理：如</tspan><tspan x="352" dy="13.9">人口、人种、宗教、城市、经济等合作探究：</tspan><tspan x="352" dy="13.9">谈谈我们身边的地理</tspan></text></g>
<g id="l2b" class="n"><rect x="576" y="1221" width="122" height="22.4" rx="4"/><text x="581" y="1236">二、“为什么要学地理”?</text></g>
<g id="l2b1" class="n"><rect x="453" y="1038" width="102" height="22.4" rx="4"/><text x="458" y="1053">(一)解开地理之“谜”</text></g>
<g id="l2b1a" class="n"><rect x="208" y="1004" width="225" height="36.3" rx="4"/><text x="213" y="1019"><tspan x="213">运用图片展示学生熟悉的地理问题，吸引学生</tspan><tspan x="213" dy="13.9">的注意力，提出问题，激发学生的求知欲。</tspan></text></g>
<g id="l2b1b" class="n"><rect x="268" y="1064" width="165" height="22.4" rx="4"/><text x="273" y="1079">想一想：你还知道哪些地理问题?</text></g>
<g id="l2b2" class="n"><rect x="453" y="1149" width="102" height="22.4" rx="4"/><text x="458" y="1164">(二)地理与日常生活</text></g>
<g id="l2b2a" class="n"><rect x="208" y="1113" width="225" height="36.3" rx="4"/><text x="213" y="1128"><tspan x="213">教学中从吃穿住行等方面入手，展示地理与生</tspan><tspan x="213" dy="13.9">活息息相关，引导学生学习身边的地理知识。</tspan></text></g>
<g id="l2b2b" class="n"><rect x="208" y="1174" width="225" height="36.3" rx="4"/><text x="213" y="1189"><tspan x="213">合作探究：我国南方、北方居民的主食有何不</tspan><tspan x="213" dy="13.9">同?为什么?</tspan></text></g>
<g id="l2b3" class="n"><rect x="453" y="1282" width="102" height="22.4" rx="4"/><text x="458" y="1297">(三)地理与生产建设</text></g>
<g id="l2b3a" class="n"><rect x="208" y="1235" width="225" height="50.2" rx="4"/><text x="213" y="1250"><tspan x="213">主要从农业生产、工业生产等入手，重点列举</tspan><tspan x="213" dy="13.9">了欧洲发达的国家“荷兰的风车”，让学生认识</tspan><tspan x="213" dy="13.9">到地理环境对荷兰农牧业的影响。</tspan></text></g>
<g id="l2b3b" class="n"><rect x="208" y="1310" width="225" height="36.3" rx="4"/><text x="213" y="1325"><tspan x="213">想一想：建设服装厂、乳品加工厂该如何选址</tspan><tspan x="213" dy="13.9">?</tspan></text></g>
<g id="l2b4" class="n"><rect x="453" y="1406" width="102" height="22.4" rx="4"/><text x="458" y="1421">(四)地理与风土人情</text></g>
<g id="l2b4a" class="n"><rect x="208" y="1371" width="225" height="91.9" rx="4"/><text x="213" y="1386"><tspan x="213">展示大量的地理图片，从服饰、体育活动等入</tspan><tspan x="213" dy="13.9">手观看不同地区的风俗活动。在授课时，我以</tspan><tspan x="213" dy="13.9">“阿拉伯服饰”为重点，分析服饰与地理环境的</tspan><tspan x="213" dy="13.9">关系。学生对千姿百态的风土人情非常感兴趣</tspan><tspan x="213" dy="13.9">，老师引导学生学好地理能更好的做到“入乡</tspan><tspan x="213" dy="13.9">随俗”。</tspan></text></g>
<g id="l2c" class="n"><rect x="593" y="1488" width="105" height="22.4" rx="4"/><text x="598" y="1503">三、“怎样学习地理”</text></g>
<g id="l3" class="n"><rect x="632" y="1659" width="225" height="36.3" rx="4"/><text x="637" y="1674"><tspan x="637">地理是初中阶段的一门重要学科，对学生提出</tspan><tspan x="637" dy="13.9">必要的学习要求：</tspan></text></g>
<g id="l3a" class="n"><rect x="386" y="1535" width="225" height="36.3" rx="4"/><text x="391" y="1550"><tspan x="391">1、课前：准备好《地理课本》、《地理填充</tspan><tspan x="391" dy="13.9">图册》、《地理图册》。</tspan></text></g>
<g id="l3b" class="n"><rect x="541" y="1666" width="70" height="22.4" rx="4"/><text x="546" y="1681">2、课堂上：</text></g>
<g id="l3b1" class="n"><rect x="296" y="1598" width="225" height="36.3" rx="4"/><text x="301" y="1613"><tspan x="301">(1)会听，根据预习情况有针对性的听讲，听</tspan><tspan x="301" dy="13.9">重点、难点。</tspan></text></g>
<g id="l3b2" class="n"><rect x="296" y="1659" width="225" height="36.3" rx="4"/><text x="301" y="1674"><tspan x="301">(2)会看，看地图是学习地理的基本途径，养</tspan><tspan x="301" dy="13.9">成“一手书一手图”的习惯</tspan></text></g>
<g id="l3b3" class="n"><rect x="296" y="1720" width="225" height="36.3" rx="4"/><text x="301" y="1735"><tspan x="301">(3)会记：对重点知识做好标记，同时也要做</tspan><tspan x="301" dy="13.9">好笔记。</tspan></text></g>
<g id="l3c" class="n"><rect x="386" y="1782" width="225" height="36.3" rx="4"/><text x="391" y="1797"><tspan x="391">3、课下：及时复习所学知识，认真完成作业</tspan><tspan x="391" dy="13.9">。</tspan></text></g>

<!-- fan3 children -->
<g id="m1" class="n"><rect x="686" y="1885" width="171" height="22.4" rx="4"/><text x="691" y="1900">一、分析本课在地理教学中的位置</text></g>
<g id="m1a" class="n"><rect x="440" y="1842" width="226" height="105.8" rx="4"/><text x="445" y="1857"><tspan x="445">本节课放在九年义务教育三年制初级中学教科</tspan><tspan x="445" dy="13.9">书第一册的第一节，是为学生从小学阶段向中</tspan><tspan x="445" dy="13.9">学阶段转换而设置的衔接课。通过给学生讲解</tspan><tspan x="445" dy="13.9">有趣的地理现象和人地关系方面的地理趣味知</tspan><tspan x="445" dy="13.9">识，以增强学生对地理学科的重新认识，提高</tspan><tspan x="445" dy="13.9">学生上好地理课的自觉性，使学生逐步养成热</tspan><tspan x="445" dy="13.9">爱地理科学、钻研地理科学的良好风气。</tspan></text></g>
<g id="m2" class="n"><rect x="761" y="2015" width="96" height="22.4" rx="4"/><text x="766" y="2030">二、分析教学对象</text></g>
<g id="m2a" class="n"><rect x="516" y="1973" width="225" height="105.8" rx="4"/><text x="521" y="1988"><tspan x="521">学生由小学升入初中，由于环境的巨大变化，</tspan><tspan x="521" dy="13.9">往往给心理上造成了不适应。为了扭转这种情</tspan><tspan x="521" dy="13.9">况，除社会、家庭、学校采取一系列针对性的</tspan><tspan x="521" dy="13.9">措施外，作为地理教师也应从心理学、教育学</tspan><tspan x="521" dy="13.9">、地理教学法上入手，从这节课开始就使学生</tspan><tspan x="521" dy="13.9">认识地理与社会环境的关系，教育他们认识地</tspan><tspan x="521" dy="13.9">理在国民经济建设中的巨大作用。</tspan></text></g>
<g id="m3" class="n"><rect x="761" y="2440" width="96" height="22.4" rx="4"/><text x="766" y="2455">三、分析教材内容</text></g>
<g id="m3a" class="n"><rect x="516" y="2103" width="225" height="64.1" rx="4"/><text x="521" y="2118"><tspan x="521">1.教学目标：①使学生了解学习地理的内容和</tspan><tspan x="521" dy="13.9">意义，从而激发学生主动学习地理的强烈_和</tspan><tspan x="521" dy="13.9">兴趣，②引导学生懂得学习地理课的方法，为</tspan><tspan x="521" dy="13.9">学生学好地理课指出正确的途径。</tspan></text></g>
<g id="m3b" class="n"><rect x="640" y="2192" width="101" height="22.4" rx="4"/><text x="645" y="2207">2.知识结构(如下表)</text></g>
<g id="m3c" class="n"><rect x="516" y="2241" width="225" height="22.4" rx="4"/><text x="521" y="2256">3.教学重点介绍学习地理的内容和学习方法。</text></g>
<g id="m3d" class="n"><rect x="516" y="2288" width="225" height="36.3" rx="4"/><text x="521" y="2303"><tspan x="521">4.教学难点教师要用“磁性效应”强烈地吸引住</tspan><tspan x="521" dy="13.9">学生，使学生有效地掌握学习地理的方法。</tspan></text></g>
<g id="m3e" class="n"><rect x="516" y="2349" width="225" height="147.5" rx="4"/><text x="521" y="2364"><tspan x="521">5.教学思路①采用提问、讲解、读课文等综合</tspan><tspan x="521" dy="13.9">方法，启发学生积极思维。告诉学生，学习地</tspan><tspan x="521" dy="13.9">理与人们生活的关系，培养学生浓厚的学习兴</tspan><tspan x="521" dy="13.9">趣。②通过“想一想”，利用彩_片、地图册、</tspan><tspan x="521" dy="13.9">电化教学等教学方法，演示一些有趣的地理现</tspan><tspan x="521" dy="13.9">象，让学生初步掌握从5个方面思考的学习地</tspan><tspan x="521" dy="13.9">理方法。③课后组织课外地理兴趣小组，从课</tspan><tspan x="521" dy="13.9">外阅读、看电视、看电影、听广播中增加地理</tspan><tspan x="521" dy="13.9">知识的学习。办地理小专刊、黑板报。鼓励学</tspan><tspan x="521" dy="13.9">生积极参加地理课外兴趣小组。</tspan></text></g>
<g id="m3f" class="n"><rect x="615" y="2520" width="126" height="22.4" rx="4"/><text x="620" y="2535">6.课程类型阅读欣赏课。</text></g>
<g id="m3g" class="n"><rect x="653" y="2569" width="88" height="22.4" rx="4"/><text x="658" y="2584">7.课时安排1课时</text></g>
<g id="m3h" class="n"><rect x="516" y="2616" width="225" height="50.2" rx="4"/><text x="521" y="2631"><tspan x="521">8.教具准备①自制本课知识结构图。②自制学</tspan><tspan x="521" dy="13.9">习地理五步法图表(贴在教室)。③收集有趣的</tspan><tspan x="521" dy="13.9">地理知识图片2～3张。</tspan></text></g>
<g id="m3i" class="n"><rect x="516" y="2691" width="225" height="36.3" rx="4"/><text x="521" y="2706"><tspan x="521">9.学具准备课本、地图册、填充图、红蓝铅笔</tspan><tspan x="521" dy="13.9">。</tspan></text></g>
<g id="m3j" class="n"><rect x="638" y="2752" width="103" height="22.4" rx="4"/><text x="643" y="2767">10.组织教学(3分钟)</text></g>
<g id="m4" class="n"><rect x="783" y="3248" width="74" height="22.4" rx="4"/><text x="788" y="3263">四、教学过程</text></g>
<g id="m4a" class="n"><rect x="536" y="2800" width="225" height="161.4" rx="4"/><text x="541" y="2815"><tspan x="541">教师用信任的目光，将学生看一遍，然后充满</tspan><tspan x="541" dy="13.9">_地向学生讲道：“宁静的夜晚，我们看到天</tspan><tspan x="541" dy="13.9">空密密麻麻的星星，它们每一个都像地球一样</tspan><tspan x="541" dy="13.9">，甚至比地球大得多，满天的星星组成了庞大</tspan><tspan x="541" dy="13.9">的银行系，银河系外面还有更大的河外星系。</tspan><tspan x="541" dy="13.9">地球仅是银河系内的一个成员，太阳系里的一</tspan><tspan x="541" dy="13.9">颗行星。如果说，河外星系就像我们的学校，</tspan><tspan x="541" dy="13.9">银河系就像我们的班级，太阳系则是班上一个</tspan><tspan x="541" dy="13.9">小组，地球就是我自己”。我们今天就学习地</tspan><tspan x="541" dy="13.9">理课第一节‘学习地理认识人类之家’板书课</tspan><tspan x="541" dy="13.9">题。</tspan></text></g>
<g id="m4b" class="n"><rect x="536" y="3208" width="225" height="175.3" rx="4"/><text x="541" y="3223"><tspan x="541">2.讲授新课①为什么要学习地理(13分钟)我们</tspan><tspan x="541" dy="13.9">生活在地球上，但对地球的真正面目还认识不</tspan><tspan x="541" dy="13.9">清楚。例如，我国“现代地壳运动和地球动力</tspan><tspan x="541" dy="13.9">学研究”测量出我国大陆每年向东偏南运动8</tspan><tspan x="541" dy="13.9">毫米;科学家预言地球轨道正面临陨石进入的</tspan><tspan x="541" dy="13.9">高峰期，美国科学家自1994年开始利用卫星</tspan><tspan x="541" dy="13.9">控测陨石突破大气层后的轨迹;我们附近的小</tspan><tspan x="541" dy="13.9">造纸厂给我们环境造成的严重污染。这些问题</tspan><tspan x="541" dy="13.9">都是地理课中要研究的问题。教科书中讲了7</tspan><tspan x="541" dy="13.9">个地理学中学生们最感兴趣的问题，同学们分</tspan><tspan x="541" dy="13.9">成小组讨论一下，就可以对这些问题作出正确</tspan><tspan x="541" dy="13.9">的回答。</tspan></text></g>
<g id="m4b1" class="n"><rect x="292" y="2984" width="225" height="64.1" rx="4"/><text x="297" y="2999"><tspan x="297">教师板书7个问题将在地理课本中的那些章节</tspan><tspan x="297" dy="13.9">详细讲解：地球运动—气候—地形—地壳</tspan><tspan x="297" dy="13.9">运动—资源的利用及工农业生产—人口分布</tspan><tspan x="297" dy="13.9">—环境保护等章节。</tspan></text></g>
<g id="m4b2" class="n"><rect x="292" y="3074" width="225" height="78" rx="4"/><text x="297" y="3089"><tspan x="297">教师小结：地理课的内容远比这些问题广阔的</tspan><tspan x="297" dy="13.9">多，中国的、外国的、本地的，同学们在初中</tspan><tspan x="297" dy="13.9">、高中、大学的地理专业学习的内容都有很大</tspan><tspan x="297" dy="13.9">差别，学习研究的目的都是了解认识人类之家</tspan><tspan x="297" dy="13.9">，让人们在地球上生活得更好。</tspan></text></g>
<g id="m4b3" class="n"><rect x="292" y="3250" width="225" height="36.3" rx="4"/><text x="297" y="3265"><tspan x="297">②看彩图，想一想我们生活中的地理知识(8分</tspan><tspan x="297" dy="13.9">钟)</tspan></text></g>
<g id="m4b3a" class="n"><rect x="132" y="3177" width="139" height="22.4" rx="4"/><text x="137" y="3192">引导学生看彩图：火山喷发</text></g>
<g id="m4b3b" class="n"><rect x="175" y="3226" width="96" height="22.4" rx="4"/><text x="180" y="3241">东方明珠香港图片</text></g>
<g id="m4b3c" class="n"><rect x="207" y="3272" width="64" height="22.4" rx="4"/><text x="212" y="3287">初中地图册</text></g>
<g id="m4b3d" class="n"><rect x="45" y="3320" width="226" height="50.2" rx="4"/><text x="50" y="3335"><tspan x="50">让学生想一想：举例说明地理知识在我们生活</tspan><tspan x="50" dy="13.9">中的用途。“旅行、书报、看电视、天气预报</tspan><tspan x="50" dy="13.9">、筑路、治理环境等等”</tspan></text></g>
<g id="m4b4" class="n"><rect x="292" y="3413" width="225" height="78" rx="4"/><text x="297" y="3428"><tspan x="297">③怎样学好地理(13分钟)教师将学好地理应思</tspan><tspan x="297" dy="13.9">考的5个方面贴在黑板上引导讲解。学习什么</tspan><tspan x="297" dy="13.9">内容—在什么地方—是什么原因—同人类</tspan><tspan x="297" dy="13.9">有什么关系—用什么方法处理好人类同自然</tspan><tspan x="297" dy="13.9">环境的关系。</tspan></text></g>
<g id="m4b4a" class="n"><rect x="45" y="3395" width="226" height="36.3" rx="4"/><text x="50" y="3410"><tspan x="50">学会阅读地图，掌握绘制地理图表的技能，初</tspan><tspan x="50" dy="13.9">步形成观察自然和社会环境的能力。</tspan></text></g>
<g id="m4b4b" class="n"><rect x="45" y="3456" width="226" height="64.1" rx="4"/><text x="50" y="3471"><tspan x="50">引导组织地理课外活动，积极参加课外活动小</tspan><tspan x="50" dy="13.9">组，办地理小专刊，收集地理自然景观图片等</tspan><tspan x="50" dy="13.9">，以丰富自己的地理知识和才智，启发探索大</tspan><tspan x="50" dy="13.9">自然的奥秘和兴趣。</tspan></text></g>
<g id="m4b5" class="n"><rect x="292" y="3545" width="225" height="50.2" rx="4"/><text x="297" y="3560"><tspan x="297">④地理小游戏(3分钟)话说世界稀奇事。活动</tspan><tspan x="297" dy="13.9">内容始终围绕地理题材，培养学生学习地理的</tspan><tspan x="297" dy="13.9">兴趣。</tspan></text></g>
<g id="m4c" class="n"><rect x="666" y="3627" width="95" height="22.4" rx="4"/><text x="671" y="3642">3.课后小结(5分钟)</text></g>
<g id="m4c1" class="n"><rect x="420" y="3621" width="224" height="36.3" rx="4"/><text x="425" y="3636"><tspan x="425">讲地理科学的发展前景。培养热爱“人类之家</tspan><tspan x="425" dy="13.9">，建设人类之家—地球”的远大情怀。</tspan></text></g>

<!-- fan5 children -->
<g id="p1" class="n"><rect x="805" y="3682" width="52" height="22.4" rx="4"/><text x="810" y="3697">学习目标</text></g>
<g id="p2" class="n"><rect x="656" y="3730" width="201" height="22.4" rx="4"/><text x="661" y="3745">1.用简单的方法演示地球的自转和公转。</text></g>
<g id="p3" class="n"><rect x="666" y="3777" width="191" height="22.4" rx="4"/><text x="671" y="3792">2.用地理现象说明地球的自转和公转。</text></g>
<g id="p3a" class="n"><rect x="485" y="3777" width="159" height="22.4" rx="4"/><text x="490" y="3792">该学习目标可以分解细化如下。</text></g>
<g id="p4" class="n"><rect x="632" y="3823" width="225" height="50.2" rx="4"/><text x="637" y="3838"><tspan x="637">1.通过演示地球的自转运动，初步建立地球自</tspan><tspan x="637" dy="13.9">转的空间概念，认识地球自转的特点(绕转中</tspan><tspan x="637" dy="13.9">心、方向和周期)。</tspan></text></g>
<g id="p5" class="n"><rect x="632" y="3899" width="225" height="50.2" rx="4"/><text x="637" y="3914"><tspan x="637">2.通过演示、观察地球的自转过程，理解昼夜</tspan><tspan x="637" dy="13.9">更替、各地时间差异等现象与地球自转的关系</tspan><tspan x="637" dy="13.9">。</tspan></text></g>
<g id="p6" class="n"><rect x="632" y="3973" width="225" height="50.2" rx="4"/><text x="637" y="3988"><tspan x="637">3.通过演示地球的公转运动，初步建立地球公</tspan><tspan x="637" dy="13.9">转的空间概念，认识地球公转的特点(绕转中</tspan><tspan x="637" dy="13.9">心、方向、周期和地轴倾斜方向)。</tspan></text></g>
<g id="p7" class="n"><rect x="632" y="4050" width="225" height="64.1" rx="4"/><text x="637" y="4065"><tspan x="637">4.通过演示、观察地球的公转过程，理解中午</tspan><tspan x="637" dy="13.9">太阳高低的变化、白昼和黑夜时间长短的变化</tspan><tspan x="637" dy="13.9">、四季的形成、五带的划分等地理现象与地球</tspan><tspan x="637" dy="13.9">公转的关系。</tspan></text></g>
<g id="p8" class="n"><rect x="632" y="4156" width="225" height="36.3" rx="4"/><text x="637" y="4171"><tspan x="637">5.在实验演示、观察思考、总结归纳等探究过</tspan><tspan x="637" dy="13.9">程中，逐步树立求真务实的科学探究精神。</tspan></text></g>
<g id="p8a" class="n"><rect x="527" y="4139" width="84" height="22.4" rx="4"/><text x="532" y="4154">教学重点、难点</text></g>
<g id="p8b" class="n"><rect x="538" y="4186" width="73" height="22.4" rx="4"/><text x="543" y="4201">【教学重点】</text></g>
<g id="p9" class="n"><rect x="656" y="4233" width="201" height="22.4" rx="4"/><text x="661" y="4248">1.用简单的方法演示地球的自转和公转。</text></g>
<g id="p10" class="n"><rect x="666" y="4281" width="191" height="22.4" rx="4"/><text x="671" y="4296">2.用地理现象说明地球的自转和公转。</text></g>
<g id="p10a" class="n"><rect x="571" y="4281" width="73" height="22.4" rx="4"/><text x="576" y="4296">【教学难点】</text></g>
<g id="p11" class="n"><rect x="632" y="4329" width="225" height="50.2" rx="4"/><text x="637" y="4344"><tspan x="637">1.通过演示、观察地球的自转过程，理解昼夜</tspan><tspan x="637" dy="13.9">更替、各地时间差异等现象与地球自转的关系</tspan><tspan x="637" dy="13.9">。</tspan></text></g>
<g id="p12" class="n"><rect x="632" y="4467" width="225" height="64.1" rx="4"/><text x="637" y="4482"><tspan x="637">2.通过演示、观察地球的公转过程，理解中午</tspan><tspan x="637" dy="13.9">太阳高低的变化、白昼和黑夜时间长短的变化</tspan><tspan x="637" dy="13.9">、四季的形成、五带的划分等地理现象与地球</tspan><tspan x="637" dy="13.9">公转的关系。</tspan></text></g>
<g id="p12a" class="n"><rect x="559" y="4404" width="52" height="22.4" rx="4"/><text x="564" y="4419">教学方法</text></g>
<g id="p12b" class="n"><rect x="559" y="4458" width="52" height="22.4" rx="4"/><text x="564" y="4473">【教法】</text></g>
<g id="p12b1" class="n"><rect x="314" y="4451" width="224" height="36.3" rx="4"/><text x="319" y="4466"><tspan x="319">创设情景法、实验探究法、读图分析法、总结</tspan><tspan x="319" dy="13.9">归纳法、启发引导法、交流谈话法。</tspan></text></g>
<g id="p12c" class="n"><rect x="559" y="4571" width="52" height="22.4" rx="4"/><text x="564" y="4586">【学法】</text></g>
<g id="p12c1" class="n"><rect x="314" y="4513" width="224" height="36.3" rx="4"/><text x="319" y="4528"><tspan x="319">情景感受法、实验体会法、地图观察法、问题</tspan><tspan x="319" dy="13.9">探究法、自主学习法、合作探究法。</tspan></text></g>
<g id="p12c2" class="n"><rect x="485" y="4575" width="53" height="22.4" rx="4"/><text x="490" y="4590">教学课时</text></g>
<g id="p12c3" class="n"><rect x="490" y="4621" width="48" height="22.4" rx="4"/><text x="495" y="4636">2课时。</text></g>

<g id="watermark" class="w">
<text x="645" y="560" text-anchor="middle" transform="rotate(-32 645 520)">树图 shutu.cn</text>
<text x="645" y="1557" text-anchor="middle" transform="rotate(-32 645 1517)">树图 shutu.cn</text>
<text x="645" y="2559" text-anchor="middle" transform="rotate(-32 645 2519)">树图 shutu.cn</text>
<text x="645" y="3555" text-anchor="middle" transform="rotate(-32 645 3515)">树图 shutu.cn</text>
<text x="645" y="4557" text-anchor="middle" transform="rotate(-32 645 4517)">树图 shutu.cn</text>
<text x="645" y="5550" text-anchor="middle" transform="rotate(-32 645 5510)">树图 shutu.cn</text>
<text x="1922" y="556" text-anchor="middle" transform="rotate(-32 1922 516)">树图 shutu.cn</text>
<text x="1922" y="1562" text-anchor="middle" transform="rotate(-32 1922 1522)">树图 shutu.cn</text>
<text x="1922" y="2560" text-anchor="middle" transform="rotate(-32 1922 2520)">树图 shutu.cn</text>
<text x="1922" y="3555" text-anchor="middle" transform="rotate(-32 1922 3515)">树图 shutu.cn</text>
<text x="1922" y="4555" text-anchor="middle" transform="rotate(-32 1922 4515)">树图 shutu.cn</text>
<text x="1922" y="5550" text-anchor="middle" transform="rotate(-32 1922 5510)">树图 shutu.cn</text>
</g>
</g>
</svg>
